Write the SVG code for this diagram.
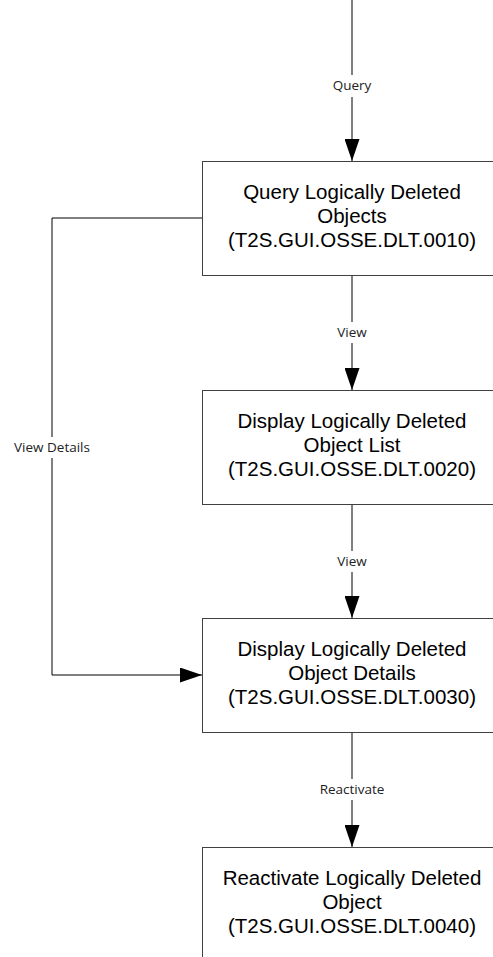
<svg xmlns="http://www.w3.org/2000/svg" width="493" height="957" viewBox="0 0 493 957">
<style>
.box{fill:#fff;stroke:#404040;stroke-width:1}
.t{font-family:"Liberation Sans",Arial,sans-serif;font-size:20.5px;fill:#000;text-anchor:middle}
.c{fill:none;stroke:#000;stroke-width:1}
.lb{font-family:"Open Sans","Noto Sans",sans-serif;font-size:13.5px;fill:#222;text-anchor:middle}
.bg{fill:#fff}
</style>
<defs>
<marker id="ah" viewBox="0 0 22 15" refX="22" refY="7.5" markerWidth="22" markerHeight="15" markerUnits="userSpaceOnUse" orient="auto">
<path d="M0,0 L22,7.5 L0,15 z" fill="#000"/>
</marker>
</defs>
<g id="connectors">
<path class="c" d="M352,0 V161" marker-end="url(#ah)"/>
<path class="c" d="M352,275 V390" marker-end="url(#ah)"/>
<path class="c" d="M352,504 V618" marker-end="url(#ah)"/>
<path class="c" d="M352,732 V847" marker-end="url(#ah)"/>
<path class="c" d="M202,218 H52 V675 H202" marker-end="url(#ah)"/>
<rect class="bg" x="330" y="75" width="44" height="22"/>
<text class="lb" x="352" y="90">Query</text>
<rect class="bg" x="334" y="322" width="36" height="21"/>
<text class="lb" x="352" y="337">View</text>
<rect class="bg" x="334" y="551" width="36" height="21"/>
<text class="lb" x="352" y="566">View</text>
<rect class="bg" x="318" y="779" width="68" height="21"/>
<text class="lb" x="352" y="794">Reactivate</text>
<rect class="bg" x="11" y="437" width="82" height="21"/>
<text class="lb" x="52" y="452">View Details</text>
</g>
<g id="n1">
<rect class="box" x="202.5" y="161.5" width="300" height="114"/>
<text class="t" x="352" y="199">Query Logically Deleted</text>
<text class="t" x="352" y="223">Objects</text>
<text class="t" x="352" y="247">(T2S.GUI.OSSE.DLT.0010)</text>
</g>
<g id="n2">
<rect class="box" x="202.5" y="390.5" width="300" height="114"/>
<text class="t" x="352" y="428">Display Logically Deleted</text>
<text class="t" x="352" y="452">Object List</text>
<text class="t" x="352" y="476">(T2S.GUI.OSSE.DLT.0020)</text>
</g>
<g id="n3">
<rect class="box" x="202.5" y="618.5" width="300" height="114"/>
<text class="t" x="352" y="656">Display Logically Deleted</text>
<text class="t" x="352" y="680">Object Details</text>
<text class="t" x="352" y="704">(T2S.GUI.OSSE.DLT.0030)</text>
</g>
<g id="n4">
<rect class="box" x="202.5" y="847.5" width="300" height="114"/>
<text class="t" x="352" y="885">Reactivate Logically Deleted</text>
<text class="t" x="352" y="909">Object</text>
<text class="t" x="352" y="933">(T2S.GUI.OSSE.DLT.0040)</text>
</g>
</svg>
